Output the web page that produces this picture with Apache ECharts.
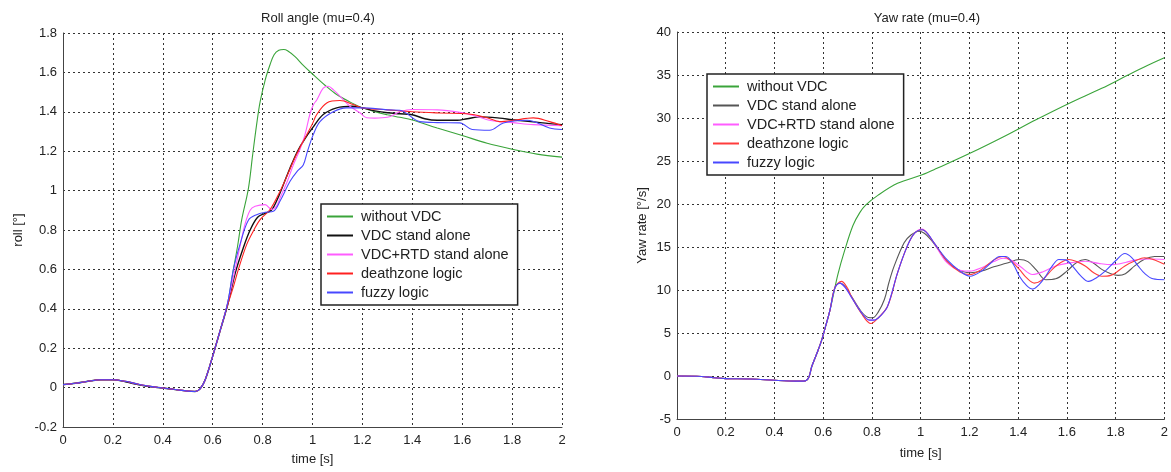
<!DOCTYPE html>
<html>
<head>
<meta charset="utf-8">
<script src="https://cdn.jsdelivr.net/npm/echarts@6/dist/echarts.min.js"></script>
<style>
  html, body { margin: 0; padding: 0; background: #fff; }
  #chart { width: 1171px; height: 472px; }
</style>
</head>
<body>
<div id="chart"></div>
<script>
// Series names shared by both panels
const seriesNames = ['without VDC', 'VDC stand alone', 'VDC+RTD stand alone', 'deathzone logic', 'fuzzy logic'];

// Roll angle [deg] vs time [s], mu = 0.4
const rollWithoutVDC = [[0,0.015],[0.05,0.022],[0.1,0.032],[0.15,0.04],[0.2,0.04],[0.25,0.032],[0.3,0.018],[0.35,0.006],[0.4,-0.002],[0.45,-0.01],[0.5,-0.018],[0.53,-0.02],[0.55,-0.005],[0.57,0.04],[0.6,0.16],[0.63,0.29],[0.66,0.43],[0.683,0.6],[0.7,0.72],[0.716,0.85],[0.743,1.01],[0.76,1.18],[0.776,1.335],[0.79,1.45],[0.81,1.56],[0.83,1.64],[0.846,1.69],[0.865,1.712],[0.885,1.716],[0.9,1.71],[0.93,1.68],[0.96,1.64],[1.0,1.592],[1.05,1.535],[1.1,1.485],[1.15,1.45],[1.2,1.42],[1.25,1.40],[1.3,1.385],[1.35,1.372],[1.4,1.358],[1.5,1.318],[1.6,1.28],[1.7,1.24],[1.8,1.21],[1.9,1.185],[2.0,1.17]];
const rollVDC = [[0,0.015],[0.05,0.022],[0.1,0.032],[0.15,0.04],[0.2,0.04],[0.25,0.03],[0.3,0.015],[0.35,0.004],[0.4,-0.002],[0.45,-0.01],[0.5,-0.018],[0.53,-0.02],[0.55,-0.005],[0.57,0.04],[0.6,0.16],[0.63,0.29],[0.66,0.42],[0.69,0.58],[0.72,0.70],[0.75,0.80],[0.78,0.865],[0.81,0.885],[0.835,0.9],[0.856,0.947],[0.88,1.02],[0.91,1.115],[0.94,1.2],[0.963,1.25],[1.0,1.318],[1.043,1.386],[1.097,1.42],[1.16,1.428],[1.2,1.42],[1.25,1.405],[1.3,1.395],[1.35,1.39],[1.4,1.385],[1.45,1.365],[1.5,1.357],[1.58,1.357],[1.62,1.365],[1.67,1.374],[1.75,1.368],[1.8,1.36],[1.885,1.349],[1.95,1.34],[2.0,1.335]];
const rollVDCRTD = [[0,0.015],[0.05,0.022],[0.1,0.032],[0.15,0.04],[0.2,0.04],[0.25,0.032],[0.3,0.018],[0.35,0.006],[0.4,-0.002],[0.45,-0.01],[0.5,-0.018],[0.53,-0.02],[0.55,-0.005],[0.57,0.04],[0.6,0.16],[0.63,0.29],[0.66,0.43],[0.69,0.6],[0.71,0.72],[0.729,0.827],[0.75,0.9],[0.77,0.92],[0.81,0.929],[0.836,0.904],[0.855,0.92],[0.87,0.963],[0.9,1.05],[0.923,1.13],[0.95,1.21],[0.97,1.284],[0.99,1.39],[1.004,1.437],[1.017,1.46],[1.043,1.52],[1.063,1.53],[1.085,1.51],[1.11,1.48],[1.15,1.428],[1.19,1.395],[1.217,1.37],[1.25,1.368],[1.3,1.372],[1.35,1.40],[1.4,1.412],[1.5,1.41],[1.59,1.397],[1.65,1.38],[1.7,1.36],[1.75,1.35],[1.8,1.345],[1.885,1.335],[2.0,1.33]];
const rollDeathzone = [[0,0.015],[0.05,0.022],[0.1,0.032],[0.15,0.04],[0.2,0.04],[0.25,0.032],[0.3,0.018],[0.35,0.006],[0.4,-0.002],[0.45,-0.01],[0.5,-0.018],[0.53,-0.02],[0.55,-0.005],[0.57,0.04],[0.6,0.16],[0.63,0.29],[0.66,0.42],[0.68,0.5],[0.703,0.6],[0.736,0.726],[0.765,0.8],[0.79,0.853],[0.83,0.904],[0.87,0.997],[0.9,1.08],[0.923,1.149],[0.95,1.22],[0.977,1.284],[1.0,1.34],[1.017,1.386],[1.057,1.445],[1.11,1.457],[1.163,1.437],[1.2,1.42],[1.3,1.41],[1.4,1.40],[1.51,1.394],[1.62,1.39],[1.7,1.37],[1.75,1.35],[1.8,1.355],[1.885,1.369],[1.95,1.35],[2.0,1.33]];
const rollFuzzy = [[0,0.015],[0.05,0.022],[0.1,0.032],[0.15,0.04],[0.2,0.04],[0.25,0.032],[0.3,0.018],[0.35,0.006],[0.4,-0.002],[0.45,-0.01],[0.5,-0.018],[0.53,-0.02],[0.55,-0.005],[0.57,0.04],[0.6,0.16],[0.63,0.29],[0.66,0.43],[0.683,0.6],[0.71,0.73],[0.743,0.85],[0.776,0.878],[0.81,0.89],[0.843,0.895],[0.87,0.947],[0.91,1.047],[0.94,1.1],[0.963,1.13],[0.98,1.2],[1.003,1.284],[1.03,1.35],[1.083,1.40],[1.136,1.42],[1.2,1.42],[1.3,1.41],[1.35,1.408],[1.43,1.35],[1.5,1.345],[1.59,1.344],[1.64,1.31],[1.71,1.306],[1.765,1.343],[1.86,1.357],[1.95,1.318],[2.0,1.31]];

// Yaw rate [deg/s] vs time [s], mu = 0.4
const yawWithoutVDC = [[0,0],[0.1,-0.05],[0.15,-0.2],[0.2,-0.3],[0.3,-0.35],[0.4,-0.5],[0.46,-0.58],[0.52,-0.6],[0.54,-0.2],[0.553,1.1],[0.575,2.7],[0.594,4.2],[0.612,6.0],[0.628,7.7],[0.64,9.2],[0.66,11.8],[0.688,14.6],[0.722,17.5],[0.75,19.0],[0.775,19.9],[0.824,21.0],[0.905,22.4],[1.006,23.4],[1.067,24.15],[1.202,25.9],[1.338,27.8],[1.473,29.8],[1.608,31.7],[1.743,33.45],[1.851,35.0],[1.93,36.1],[2.0,37.0]];
const yawVDC = [[0,0],[0.1,-0.05],[0.15,-0.2],[0.2,-0.3],[0.3,-0.35],[0.4,-0.5],[0.46,-0.58],[0.52,-0.6],[0.54,-0.2],[0.553,1.1],[0.575,2.7],[0.594,4.2],[0.612,6.0],[0.628,7.7],[0.648,10.25],[0.668,10.8],[0.69,10.4],[0.715,9.3],[0.756,7.5],[0.785,6.8],[0.803,6.77],[0.825,7.4],[0.851,8.9],[0.87,10.9],[0.891,12.77],[0.932,15.5],[0.96,16.4],[0.993,16.84],[1.015,16.6],[1.04,15.9],[1.07,14.8],[1.107,13.35],[1.15,12.4],[1.202,12.0],[1.25,12.2],[1.3,12.7],[1.351,13.1],[1.405,13.55],[1.44,13.3],[1.475,12.3],[1.513,11.2],[1.554,11.3],[1.6,12.2],[1.64,13.2],[1.675,13.55],[1.71,13.1],[1.743,12.4],[1.78,11.9],[1.81,11.7],[1.84,11.9],[1.878,12.8],[1.92,13.6],[1.96,13.9],[2.0,13.9]];
const yawVDCRTD = [[0,0],[0.1,-0.05],[0.15,-0.2],[0.2,-0.3],[0.3,-0.35],[0.4,-0.5],[0.46,-0.58],[0.52,-0.6],[0.54,-0.2],[0.553,1.1],[0.575,2.7],[0.594,4.2],[0.612,6.0],[0.628,7.7],[0.648,10.25],[0.668,10.8],[0.69,10.3],[0.715,9.2],[0.756,7.4],[0.79,6.5],[0.81,6.5],[0.835,7.0],[0.864,8.1],[0.905,12.0],[0.945,15.1],[0.975,16.6],[1.006,17.1],[1.03,16.5],[1.054,15.5],[1.107,13.2],[1.161,12.3],[1.202,12.2],[1.25,12.6],[1.3,13.3],[1.338,13.7],[1.37,13.5],[1.41,12.7],[1.459,11.8],[1.5,12.1],[1.554,12.8],[1.6,13.1],[1.675,13.35],[1.73,13.1],[1.784,12.95],[1.84,13.2],[1.892,13.55],[1.95,13.6],[2.0,13.55]];
const yawDeathzone = [[0,0],[0.1,-0.05],[0.15,-0.2],[0.2,-0.3],[0.3,-0.35],[0.4,-0.5],[0.46,-0.58],[0.52,-0.6],[0.54,-0.2],[0.553,1.1],[0.575,2.7],[0.594,4.2],[0.612,6.0],[0.628,7.7],[0.648,10.3],[0.675,11.0],[0.7,10.2],[0.715,9.3],[0.756,7.3],[0.796,6.1],[0.82,6.6],[0.864,8.1],[0.905,12.0],[0.945,15.1],[0.975,16.6],[1.006,17.0],[1.054,15.5],[1.107,13.4],[1.161,12.1],[1.202,11.8],[1.25,12.4],[1.3,13.5],[1.338,13.9],[1.37,13.4],[1.405,12.4],[1.435,11.4],[1.466,10.8],[1.5,11.2],[1.54,12.4],[1.575,13.2],[1.608,13.55],[1.64,13.3],[1.675,12.8],[1.71,12.0],[1.743,11.6],[1.78,11.7],[1.838,12.8],[1.88,13.4],[1.919,13.75],[1.96,13.5],[2.0,13.0]];
const yawFuzzy = [[0,0],[0.1,-0.05],[0.15,-0.2],[0.2,-0.3],[0.3,-0.35],[0.4,-0.5],[0.46,-0.58],[0.52,-0.6],[0.54,-0.2],[0.553,1.1],[0.575,2.7],[0.594,4.2],[0.612,6.0],[0.628,7.7],[0.648,10.25],[0.668,10.8],[0.69,10.3],[0.715,9.2],[0.756,7.4],[0.79,6.5],[0.81,6.5],[0.835,7.0],[0.864,8.1],[0.905,12.0],[0.945,15.1],[0.975,16.6],[1.006,17.0],[1.03,16.5],[1.054,15.5],[1.107,13.55],[1.161,12.2],[1.202,11.6],[1.25,12.2],[1.29,13.2],[1.324,13.9],[1.35,13.9],[1.38,13.0],[1.405,11.6],[1.435,10.5],[1.459,10.1],[1.485,10.6],[1.513,11.6],[1.54,12.8],[1.567,13.55],[1.595,13.5],[1.622,12.8],[1.655,11.7],[1.689,11.0],[1.72,11.4],[1.757,12.2],[1.8,13.4],[1.838,14.25],[1.865,13.8],[1.892,12.8],[1.92,11.9],[1.953,11.3],[2.0,11.2]];

// Axis tick settings
const timeTicks = { min: 0, max: 2, interval: 0.2 };
const rollTicks = { min: -0.2, max: 1.8, interval: 0.2 };
const yawTicks = { min: -5, max: 40, interval: 5 };

const rollColors = ['#3aa43a', '#111111', '#ff5cff', '#ff2020', '#4848ff'];
const yawColors  = ['#3aa43a', '#555555', '#ff5cff', '#ff3c3c', '#4848ff'];

const FONT = 'Liberation Sans, Arial, sans-serif';
const txt = { color: '#222', fontFamily: FONT, fontSize: 13 };
const gridLine = { show: true, lineStyle: { color: '#333', type: [2, 3], width: 1 } };
const fmt = v => String(+v.toFixed(1));

function xAxisFor(gridIndex) {
  return {
    type: 'value', gridIndex, ...timeTicks,
    name: 'time [s]', nameLocation: 'middle', nameGap: gridIndex === 0 ? 26 : 28,
    nameTextStyle: txt,
    axisLine: { show: true, onZero: false, lineStyle: { color: '#444', width: 1 } },
    axisTick: { show: false },
    axisLabel: { ...txt, margin: 7, formatter: fmt, showMaxLabel: true, showMinLabel: true },
    splitLine: gridLine
  };
}

function yAxisFor(gridIndex, ticks, name, gap) {
  return {
    type: 'value', gridIndex, ...ticks,
    name, nameLocation: 'middle', nameRotate: 90, nameGap: gap,
    nameTextStyle: txt,
    axisLine: { show: true, onZero: false, lineStyle: { color: '#444', width: 1 } },
    axisTick: { show: false },
    axisLabel: { ...txt, margin: 6, formatter: fmt },
    splitLine: gridLine
  };
}

function legendFor(left, top, colors) {
  return {
    left, top, orient: 'vertical',
    data: seriesNames.map((n, i) => ({ name: n, itemStyle: { color: colors[i] } })),
    icon: 'rect', itemWidth: 26, itemHeight: 2, itemGap: 4,
    padding: [5, 9, 5, 6],
    backgroundColor: '#fff',
    borderColor: '#222', borderWidth: 1.5, borderRadius: 0,
    textStyle: { ...txt, fontSize: 14.5, lineHeight: 14, padding: [0, 0, 0, 3] },
    selectedMode: false
  };
}

function seriesFor(datasets, colors, axisIndex) {
  return datasets.map((d, i) => ({
    name: seriesNames[i], type: 'line', data: d,
    xAxisIndex: axisIndex, yAxisIndex: axisIndex,
    showSymbol: false, symbol: 'none', smooth: 0.35, clip: true,
    lineStyle: { color: colors[i], width: i === 1 && axisIndex === 0 ? 1.4 : 1.1 },
    itemStyle: { color: colors[i] },
    animation: false, z: 3
  }));
}

const chart = echarts.init(document.getElementById('chart'), null, { renderer: 'canvas' });
chart.setOption({
  backgroundColor: '#fff',
  animation: false,
  title: [
    { text: 'Roll angle (mu=0.4)', left: 313, top: 7, textAlign: 'center',
      textStyle: { ...txt, fontWeight: 'normal' } },
    { text: 'Yaw rate (mu=0.4)', left: 922, top: 7, textAlign: 'center',
      textStyle: { ...txt, fontWeight: 'normal' } }
  ],
  grid: [
    { left: 63, top: 33, width: 499, height: 394 },
    { left: 677, top: 32, width: 493, height: 387 }
  ],
  xAxis: [xAxisFor(0), xAxisFor(1)],
  yAxis: [
    yAxisFor(0, rollTicks, 'roll [°]', 38),
    yAxisFor(1, yawTicks, 'Yaw rate [°/s]', 28)
  ],
  legend: [legendFor(321, 204, rollColors), legendFor(707, 74, yawColors)],
  series: [
    ...seriesFor([rollWithoutVDC, rollVDC, rollVDCRTD, rollDeathzone, rollFuzzy], rollColors, 0),
    ...seriesFor([yawWithoutVDC, yawVDC, yawVDCRTD, yawDeathzone, yawFuzzy], yawColors, 1)
  ]
});
</script>
</body>
</html>
